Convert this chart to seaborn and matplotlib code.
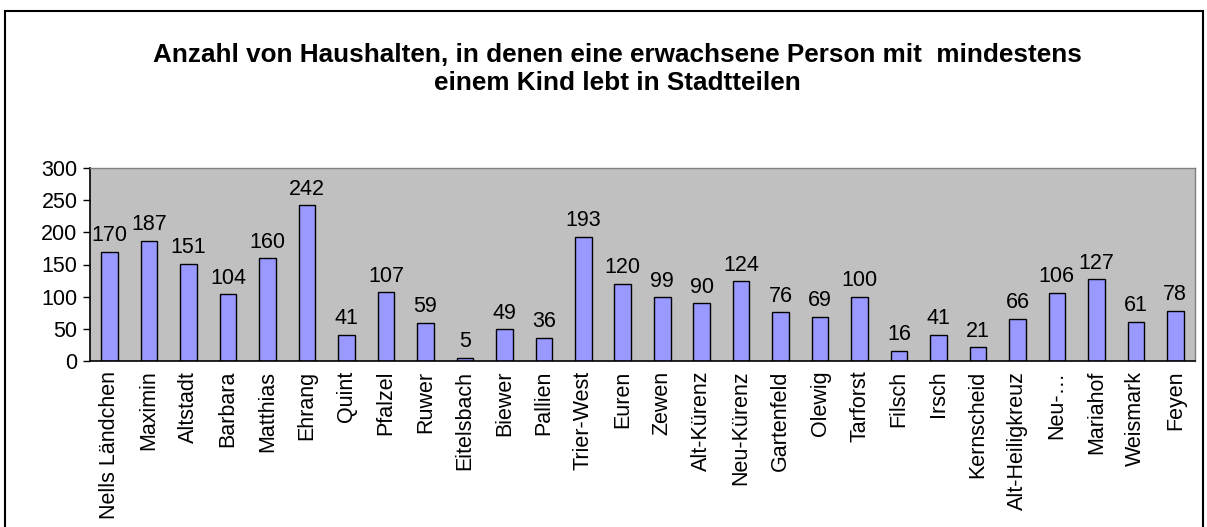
import matplotlib
matplotlib.use("Agg")
import matplotlib.pyplot as plt
import seaborn as sns
import pandas as pd
from matplotlib.patches import Rectangle

districts = ["Nells Ländchen", "Maximin", "Altstadt", "Barbara", "Matthias", "Ehrang",
             "Quint", "Pfalzel", "Ruwer", "Eitelsbach", "Biewer", "Pallien", "Trier-West",
             "Euren", "Zewen", "Alt-Kürenz", "Neu-Kürenz", "Gartenfeld", "Olewig", "Tarforst",
             "Filsch", "Irsch", "Kernscheid", "Alt-Heiligkreuz", "Neu-…", "Mariahof",
             "Weismark", "Feyen"]
values = [170, 187, 151, 104, 160, 242, 41, 107, 59, 5, 49, 36, 193, 120, 99, 90, 124,
          76, 69, 100, 16, 41, 21, 66, 106, 127, 61, 78]
yticks = [0, 50, 100, 150, 200, 250, 300]
title = "Anzahl von Haushalten, in denen eine erwachsene Person mit  mindestens\neinem Kind lebt in Stadtteilen"

sns.set_theme(style="white")
plt.rcParams["font.family"] = ["Liberation Sans", "DejaVu Sans"]
plt.rcParams["text.color"] = "black"
plt.rcParams["xtick.color"] = "black"
plt.rcParams["ytick.color"] = "black"
plt.rcParams["xtick.labelcolor"] = "black"
plt.rcParams["ytick.labelcolor"] = "black"

df = pd.DataFrame({"district": districts, "value": values})

fig = plt.figure(figsize=(12.07, 5.27), dpi=100)
ax = fig.add_axes([90 / 1207, 1 - 361 / 527, (1195 - 90) / 1207, (361 - 168) / 527])

sns.barplot(data=df, x="district", y="value", ax=ax, color="#9999FF",
            edgecolor="black", linewidth=1.0, width=0.42, saturation=1)

fs = 15.5
ax.set_facecolor("#C0C0C0")
ax.set_ylim(0, 300)
ax.set_yticks(yticks)
ax.set_yticklabels([str(t) for t in yticks], fontsize=fs, color="black")
ax.set_xlim(-0.5, len(districts) - 0.5)
ax.set_xticks(range(len(districts)))
ax.set_xticklabels(districts, rotation=90, fontsize=fs, color="black")
ax.set_xlabel("")
ax.set_ylabel("")

# category boundary ticks on x axis
ax.set_xticks([i - 0.5 for i in range(len(districts) + 1)], minor=True)
ax.tick_params(axis="x", which="major", length=0, pad=7)
ax.tick_params(axis="x", which="minor", length=5, width=1, color="black", direction="out")
ax.tick_params(axis="y", length=5, width=1, color="black", direction="out", pad=4, left=True)

for s in ["top", "right"]:
    ax.spines[s].set_color("#808080")
    ax.spines[s].set_linewidth(1)
for s in ["left", "bottom"]:
    ax.spines[s].set_color("black")
    ax.spines[s].set_linewidth(1.2)

for c in ax.containers:
    ax.bar_label(c, labels=[str(v) for v in values], padding=4, fontsize=fs, color="black")

fig.text(617 / 1207, 1 - 69 / 527, title, ha="center", va="center", fontsize=18.8,
         fontweight="bold", linespacing=1.22, color="black")

fig.patches.append(Rectangle((5 / 1207, -0.1), (1203 - 5) / 1207, 1 - 11 / 527 + 0.1,
                             transform=fig.transFigure, fill=False, edgecolor="black",
                             linewidth=1.5))

fig.savefig("out.png", dpi=100)
